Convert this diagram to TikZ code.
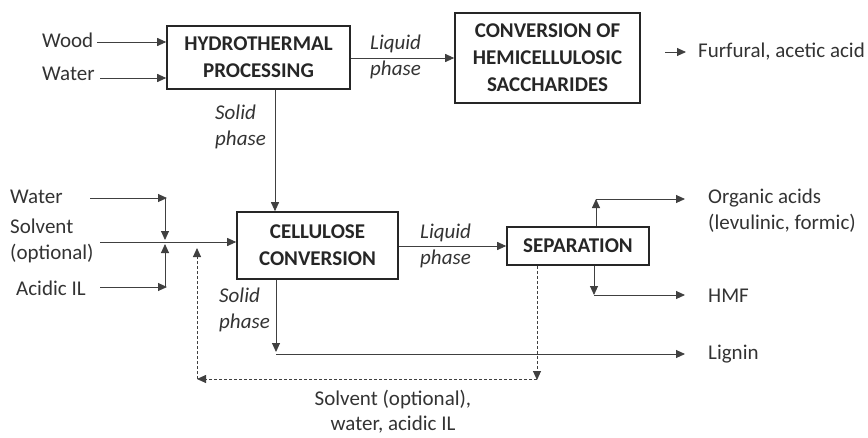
\documentclass[tikz,border=0pt]{standalone}
\usepackage{fontspec}
\setmainfont{Carlito}
\usetikzlibrary{arrows.meta}
\begin{document}
\begin{tikzpicture}[x=1pt,y=-1pt,
  box/.style={draw=black!85,line width=1.6pt,font=\fontsize{21}{27}\selectfont\bfseries,align=center,inner sep=0pt,text=black!85},
  lbl/.style={font=\fontsize{21}{26}\selectfont,text=black!80,inner sep=0pt,align=left},
  ilbl/.style={lbl,font=\fontsize{21}{26}\selectfont\itshape},
  arr/.style={draw=black!75,line width=0.9pt,-{Triangle[length=9pt,width=8pt]}},
  darr/.style={arr,dashed,dash pattern=on 3pt off 2pt}]
\useasboundingbox (0,0) rectangle (868,437);
% boxes
\node[box,minimum width=183pt,minimum height=63pt] (hydro) at (258.5,57.5) {HYDROTHERMAL\\PROCESSING};
\node[box,minimum width=185pt,minimum height=90pt] (conv) at (547.5,58) {CONVERSION OF\\HEMICELLULOSIC\\SACCHARIDES};
\node[box,minimum width=161pt,minimum height=67pt] (cell) at (317.5,245.5) {CELLULOSE\\CONVERSION};
\node[box,minimum width=142pt,minimum height=38pt] (sep) at (578,246) {SEPARATION};
% labels
\node[lbl,anchor=west] (wood) at (42,40) {Wood};
\node[lbl,anchor=west] (water1) at (42,74) {Water};
\node[ilbl,anchor=west] (lp1) at (370,57) {Liquid\\phase};
\node[ilbl,anchor=west] (sp1) at (215,127) {Solid\\phase};
\node[lbl,anchor=west] (furf) at (698,52) {Furfural, acetic acid};
\node[lbl,anchor=west] (water2) at (10,197) {Water};
\node[lbl,anchor=west] (solv) at (10,241) {Solvent\\(optional)};
\node[lbl,anchor=west] (acil) at (16,288) {Acidic IL};
\node[ilbl,anchor=west] (lp2) at (420,246) {Liquid\\phase};
\node[ilbl,anchor=west] (sp2) at (219,310) {Solid\\phase};
\node[lbl,anchor=west] (org) at (708,211) {Organic acids\\(levulinic, formic)};
\node[lbl,anchor=west] (hmf) at (708,296) {HMF};
\node[lbl,anchor=west] (lig) at (708,354) {Lignin};
\node[lbl,align=center,font=\fontsize{21}{25}\selectfont] (rec) at (393,412) {Solvent (optional),\\water, acidic IL};
% top inputs
\coordinate (w1s) at (97,42);
\coordinate (w2s) at (100,78);
\draw[arr] (w1s) -- (hydro.west |- w1s);
\draw[arr] (w2s) -- (hydro.west |- w2s);
\draw[arr] (hydro.east |- 0,58) -- (conv.west |- 0,58);
\coordinate (fs) at (665,52);
\coordinate (fe) at (686,52);
\draw[arr] (fs) -- (fe);
\draw[arr] (hydro.south -| 275,0) -- (cell.north -| 275,0);
% left inputs
\coordinate (wa) at (90,198);
\coordinate (wb) at (167,198);
\coordinate (aa) at (100,287);
\coordinate (ab) at (167,287);
\coordinate (sa) at (100,242);
\draw[arr] (wa) -- (wb);
\draw[arr] (aa) -- (ab);
\draw[arr] (wb) ++(-2,0) -- (165,240);
\draw[arr] (ab) ++(-2,0) -- (165,244);
\draw[arr] (sa) -- (cell.west |- sa);
% cellulose to separation
\draw[arr] (cell.east |- 0,246) -- (sep.west |- 0,246);
% separation outputs
\coordinate (up) at (596,199);
\coordinate (upe) at (685,199);
\coordinate (dn) at (594,295);
\coordinate (dne) at (685,295);
\draw[arr] (sep.north -| up) -- (up);
\draw[arr] (up) -- (upe);
\draw[arr] (sep.south -| dn) -- (dn);
\draw[arr] (dn) -- (dne);
% solid phase to lignin
\coordinate (sd) at (276,352);
\coordinate (lg1) at (276,354);
\coordinate (lg2) at (685,354);
\draw[arr] (cell.south -| sd) -- (sd);
\draw[arr] (lg1) -- (lg2);
% recycle
\coordinate (r1) at (537,380);
\coordinate (r2) at (197,379);
\coordinate (r3) at (197,248);
\draw[darr] (sep.south -| r1) -- (r1);
\draw[darr] (r1 |- r2) -- (r2);
\draw[darr] (r2) -- (r3);
\end{tikzpicture}
\end{document}
